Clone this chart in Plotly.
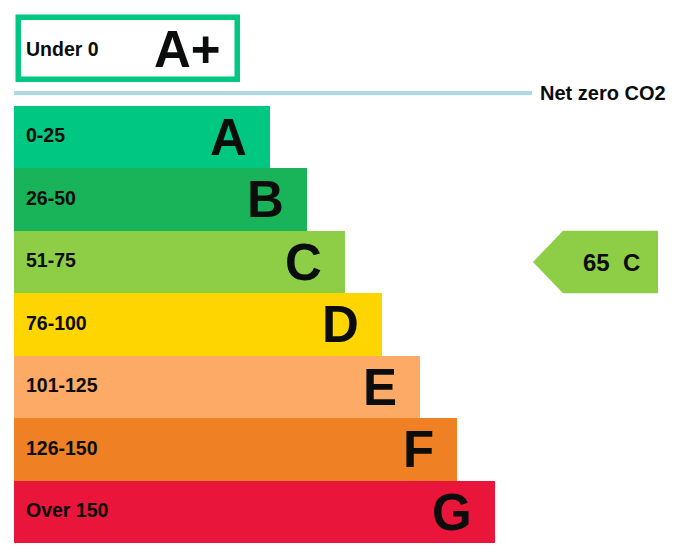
import plotly.graph_objects as go

# EPC style rating chart - bands, ranges and the current score
bands = ['A', 'B', 'C', 'D', 'E', 'F', 'G']
ranges = ['0-25', '26-50', '51-75', '76-100', '101-125', '126-150', 'Over 150']
bar_lengths = [256, 293, 331, 368, 406, 443, 481]
band_colors = ['#00c781', '#19b459', '#8dce46', '#ffd500', '#fcaa65', '#ef8023', '#e9153b']

top_band = 'A+'
top_range = 'Under 0'
net_zero_label = 'Net zero CO2'

score = 65
score_band = 'C'

FONT = 'Liberation Sans, Arial, sans-serif'
TXT = '#0b0c0c'

# layout constants (pixel-ish units, x=0 is left edge of the bars)
ROW_TOP = -1.408      # row slot of the A+ box
NET_ZERO_Y = -0.704
LABEL_X = 10
ARROW_TIP = 519
ARROW_SHOULDER = 549
ARROW_END = 644

# page has an 8px body margin, so the figure is a bit smaller than the window
W, H = 671, 550

rows = list(range(len(bands)))

fig = go.Figure()

fig.add_trace(go.Bar(y=rows, x=bar_lengths, base=0, orientation='h', width=1,
                     marker=dict(color=band_colors, line=dict(width=0)),
                     hoverinfo='skip', showlegend=False))

# A+ box: white fill, green outline
fig.add_trace(go.Bar(y=[ROW_TOP], x=[219], base=5, orientation='h', width=0.99,
                     marker=dict(color='white', line=dict(color='#00c781', width=5.5)),
                     hoverinfo='skip', showlegend=False))

# net zero line
fig.add_trace(go.Scatter(x=[0, 518], y=[NET_ZERO_Y, NET_ZERO_Y], mode='lines',
                         line=dict(color='#add8e6', width=4),
                         hoverinfo='skip', showlegend=False))

# current score arrow
r = bands.index(score_band)
fig.add_trace(go.Scatter(
    x=[ARROW_TIP, ARROW_SHOULDER, ARROW_END, ARROW_END, ARROW_SHOULDER, ARROW_TIP],
    y=[r, r - 0.5, r - 0.5, r + 0.5, r + 0.5, r],
    mode='lines', fill='toself', fillcolor=band_colors[r],
    line=dict(width=0, color=band_colors[r]),
    hoverinfo='skip', showlegend=False))

for i, (b, rg, L) in enumerate(zip(bands, ranges, bar_lengths)):
    fig.add_annotation(x=LABEL_X, y=i - 0.03, text='<b>%s</b>' % rg, showarrow=False,
                       xanchor='left', yanchor='middle',
                       font=dict(family=FONT, size=19.5, color=TXT))
    fig.add_annotation(x=L - 21, y=i, text='<b>%s</b>' % b, showarrow=False,
                       xanchor='right', yanchor='middle',
                       font=dict(family=FONT, size=51, color=TXT))

fig.add_annotation(x=LABEL_X, y=ROW_TOP, text='<b>%s</b>' % top_range, showarrow=False,
                   xanchor='left', yanchor='middle',
                   font=dict(family=FONT, size=19.5, color=TXT))
fig.add_annotation(x=209, y=ROW_TOP, text='<b>%s</b>' % top_band, showarrow=False,
                   xanchor='right', yanchor='middle',
                   font=dict(family=FONT, size=51, color=TXT))
fig.add_annotation(x=524, y=NET_ZERO_Y, text='<b>%s</b>' % net_zero_label, showarrow=False,
                   xanchor='left', yanchor='middle',
                   font=dict(family=FONT, size=20, color=TXT))

fig.add_annotation(x=582, y=r, text='<b>%d</b>' % score, showarrow=False,
                   xanchor='center', yanchor='middle',
                   font=dict(family=FONT, size=24, color=TXT))
fig.add_annotation(x=617, y=r, text='<b>%s</b>' % score_band, showarrow=False,
                   xanchor='center', yanchor='middle',
                   font=dict(family=FONT, size=24, color=TXT))

fig.update_layout(width=W, height=H,
                  margin=dict(l=0, r=0, t=0, b=0),
                  plot_bgcolor='white', paper_bgcolor='white',
                  bargap=0,
                  xaxis=dict(range=[-6, 665], visible=False, fixedrange=True),
                  yaxis=dict(range=[6.736, -2.064], visible=False, fixedrange=True))

fig.write_html("out.html")
